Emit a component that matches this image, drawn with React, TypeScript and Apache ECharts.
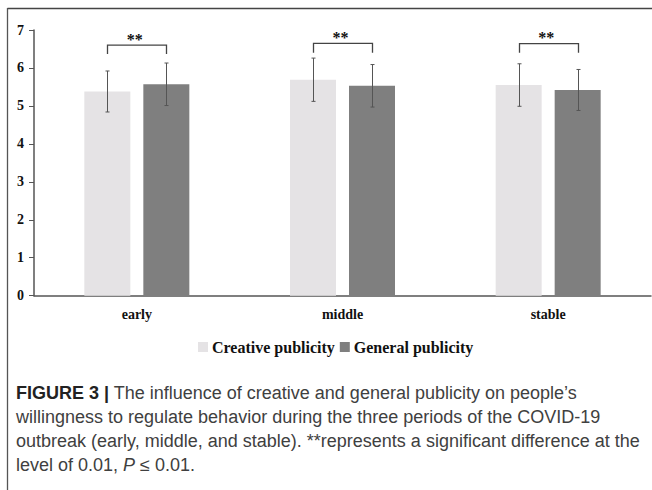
import React, { useEffect, useRef } from "react";
import * as echarts from "echarts";

const categories = ["early", "middle", "stable"];
const seriesNames = ["Creative publicity", "General publicity"];
const creativeMeans = [5.38, 5.69, 5.55];
const creativeSD = [0.54, 0.57, 0.56];
const generalMeans = [5.57, 5.53, 5.42];
const generalSD = [0.56, 0.56, 0.54];
// significance brackets: [category index, bracket top, bracket leg end]
const bracketTops = [6.6, 6.65, 6.64];
const bracketLegs = [6.37, 6.4, 6.4];
const sigLabel = "**";
const yTicks = [0, 1, 2, 3, 4, 5, 6, 7];

const captionLines = [
  "{b|FIGURE 3 |} The influence of creative and general publicity on people\u2019s",
  "willingness to regulate behavior during the three periods of the COVID-19",
  "outbreak (early, middle, and stable). **represents a significant difference at the",
  "level of 0.01, {i|P} \u2264 0.01.",
];

const LIGHT = "#e5e3e5";
const DARK = "#7f7f7f";
const SERIF = "'Liberation Serif', 'Times New Roman', serif";
const SANS = "'Liberation Sans', Arial, sans-serif";

const BAR_W = 46;
const BAR_GAP_PX = 13;

export default function App() {
  const ref = useRef<HTMLDivElement>(null);
  useEffect(() => {
    if (!ref.current) return;
    const chart = echarts.init(ref.current, null, { renderer: "svg" });
    const half = (BAR_W + BAR_GAP_PX) / 2;

    const errData: number[][] = [];
    categories.forEach((_, i) => {
      errData.push([i, creativeMeans[i], creativeSD[i], 0]);
      errData.push([i, generalMeans[i], generalSD[i], 1]);
    });
    const brData = categories.map((_, i) => [i, bracketTops[i], bracketLegs[i]]);

    const captionGraphics: any[] = captionLines.map((t, k) => ({
      type: "text",
      left: 16,
      top: 384 + k * 24,
      style: {
        text: t,
        font: `18px ${SANS}`,
        fill: "#404040",
        rich: {
          b: { fontFamily: SANS, fontWeight: "bold", fontSize: 18, fill: "#222" },
          i: { fontFamily: SANS, fontStyle: "italic", fontSize: 18, fill: "#404040" },
        },
      },
    }));

    const option: any = {
      animation: false,
      backgroundColor: "#ffffff",
      grid: { left: 34, right: 1, top: 30, bottom: 194.3, containLabel: false },
      legend: {
        data: seriesNames,
        left: 193,
        top: 334,
        itemWidth: 10,
        itemHeight: 10,
        itemGap: 5,
        icon: "rect",
        textStyle: { fontFamily: SERIF, fontWeight: "bold", fontSize: 16, color: "#111", padding: [0, 0, 0, -1] },
      },
      xAxis: {
        type: "category",
        data: categories,
        axisLine: { lineStyle: { color: "#555", width: 1.5 } },
        axisTick: { show: false },
        axisLabel: { fontFamily: SERIF, fontWeight: "bold", fontSize: 14, color: "#111", margin: 12 },
      },
      yAxis: {
        type: "value",
        min: 0,
        max: yTicks[yTicks.length - 1],
        interval: 1,
        splitLine: { show: false },
        axisLine: { show: true, lineStyle: { color: "#555", width: 1.5 } },
        axisTick: { show: true, length: 5, lineStyle: { color: "#555", width: 1 } },
        axisLabel: { fontFamily: SERIF, fontWeight: "bold", fontSize: 14, color: "#111", margin: 10 },
      },
      series: [
        {
          name: seriesNames[0],
          type: "bar",
          data: creativeMeans,
          barWidth: BAR_W,
          barGap: (BAR_GAP_PX / BAR_W) * 100 + "%",
          itemStyle: { color: LIGHT },
        },
        {
          name: seriesNames[1],
          type: "bar",
          data: generalMeans,
          barWidth: BAR_W,
          itemStyle: { color: DARK },
        },
        {
          type: "custom",
          data: errData,
          z: 10,
          silent: true,
          renderItem: (params: any, api: any) => {
            const c = api.value(0);
            const m = api.value(1);
            const sd = api.value(2);
            const s = api.value(3);
            const top = api.coord([c, m + sd]);
            const bot = api.coord([c, m - sd]);
            const x = Math.round(top[0] + (s === 0 ? -half : half)) + 0.5;
            const st = { stroke: "#555", lineWidth: 1 };
            return {
              type: "group",
              children: [
                { type: "line", shape: { x1: x, y1: top[1], x2: x, y2: bot[1] }, style: st },
                { type: "line", shape: { x1: x - 2, y1: top[1], x2: x + 2, y2: top[1] }, style: st },
                { type: "line", shape: { x1: x - 2, y1: bot[1], x2: x + 2, y2: bot[1] }, style: st },
              ],
            };
          },
        },
        {
          type: "custom",
          data: brData,
          z: 10,
          silent: true,
          renderItem: (params: any, api: any) => {
            const c = api.value(0);
            const t = api.coord([c, api.value(1)]);
            const l = api.coord([c, api.value(2)]);
            const x1 = Math.round(t[0] - half) + 0.5;
            const x2 = Math.round(t[0] + half) + 0.5;
            return {
              type: "group",
              children: [
                {
                  type: "polyline",
                  shape: { points: [[x1, l[1]], [x1, t[1]], [x2, t[1]], [x2, l[1]]] },
                  style: { stroke: "#444", lineWidth: 1.3, fill: "none" },
                },
                {
                  type: "text",
                  x: t[0] - 2,
                  y: t[1] + 2,
                  style: {
                    text: sigLabel,
                    font: `bold 16px ${SERIF}`,
                    fill: "#111",
                    align: "center",
                    verticalAlign: "bottom",
                  },
                },
              ],
            };
          },
        },
      ],
      graphic: [
        { type: "line", shape: { x1: 7.5, y1: 8.5, x2: 652, y2: 8.5 }, style: { stroke: "#444", lineWidth: 1.5 } },
        { type: "line", shape: { x1: 7.5, y1: 8, x2: 7.5, y2: 490 }, style: { stroke: "#555", lineWidth: 1.3 } },
        ...captionGraphics,
      ],
    };
    chart.setOption(option);
    return () => chart.dispose();
  }, []);
  return (
    <div
      ref={ref}
      style={{ position: "fixed", left: 0, top: 0, width: 652, height: 490, background: "#fff" }}
    />
  );
}
